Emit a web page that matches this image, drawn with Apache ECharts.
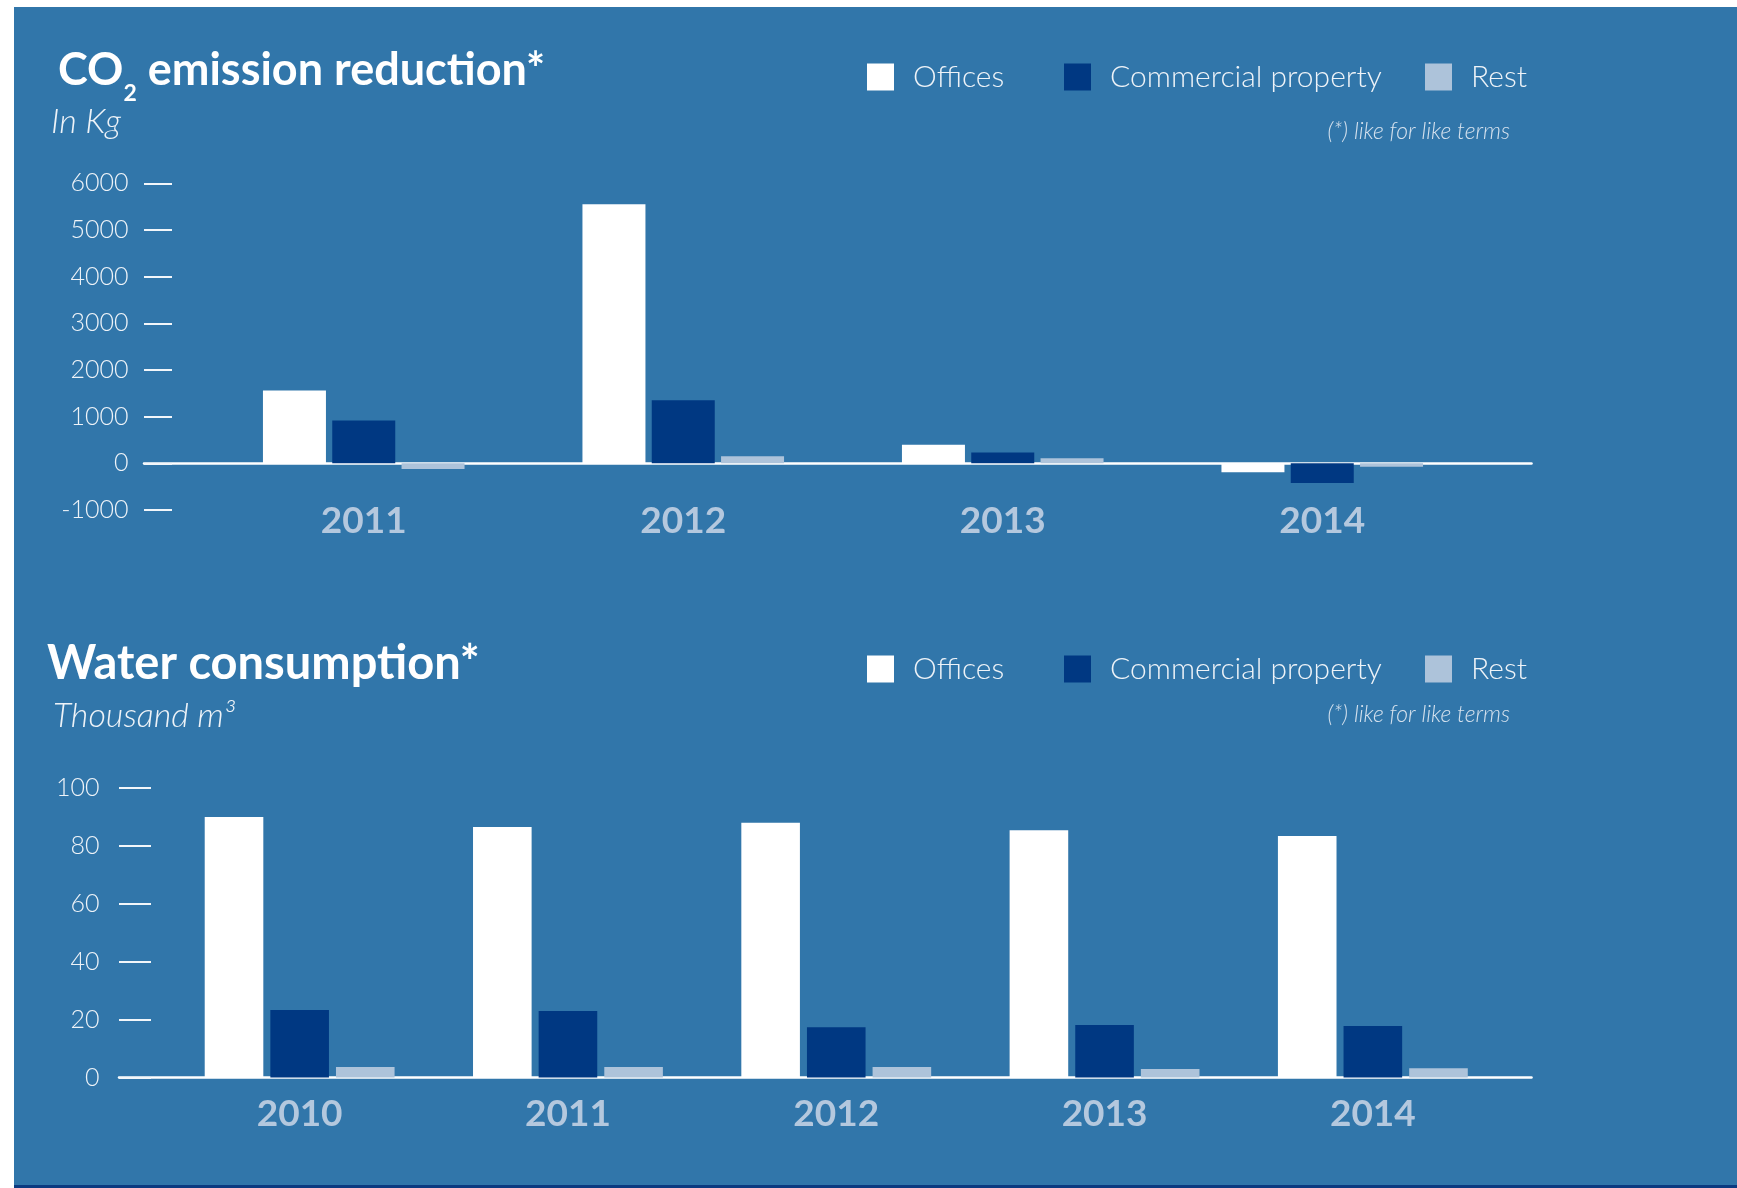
<!DOCTYPE html>
<html>
<head>
<meta charset="utf-8">
<script src="https://cdn.jsdelivr.net/npm/echarts@6/dist/echarts.min.js"></script>
<style>
  html, body { margin: 0; padding: 0; background: #ffffff; width: 1737px; height: 1188px; overflow: hidden; }
  #panel { position: absolute; left: 14px; top: 7px; width: 1723px; height: 1178px; background: #3176aa; border-bottom: 3px solid #0b3a80; }
  #chart { position: absolute; left: 0; top: 0; width: 1737px; height: 1188px; }
</style>
</head>
<body>
<div id="panel"></div>
<div id="chart"></div>
<script>
// ---- Data ----
const co2Years = ['2011', '2012', '2013', '2014'];
const co2Offices = [1560, 5550, 400, -190];
const co2Commercial = [920, 1350, 230, -420];
const co2Rest = [-120, 150, 110, -75];
const co2AxisMin = -1000, co2AxisMax = 6000, co2AxisStep = 1000;

const waterYears = ['2010', '2011', '2012', '2013', '2014'];
const waterOffices = [90, 86.5, 88, 85.4, 83.4];
const waterCommercial = [23.3, 23, 17.4, 18.1, 17.8];
const waterRest = [3.6, 3.6, 3.6, 2.9, 3.2];
const waterAxisMin = 0, waterAxisMax = 100, waterAxisStep = 20;

const seriesNames = ['Offices', 'Commercial property', 'Rest'];
const seriesColors = ['#ffffff', '#003882', '#adc3da'];

// ---- Styles ----
const FONT = 'Lato';
const yearColor = '#b4c8de';
const textLight = '#eef3f8';

const chart = echarts.init(document.getElementById('chart'), null, { renderer: 'canvas' });

function titleRich(text, left, top) {
  return {
    text: text, left: left, top: top, padding: 0,
    textStyle: {
      rich: {
        a: { fontSize: 45, fontWeight: 'bold', color: '#ffffff', fontFamily: FONT, lineHeight: 45 },
        s: { fontSize: 23, fontWeight: 'bold', color: '#ffffff', fontFamily: FONT, lineHeight: 23, padding: [47, 0, 0, 0] }
      }
    }
  };
}
function plainTitle(text, opts, style) {
  return Object.assign({ text: text, padding: 0, textStyle: Object.assign({ fontFamily: FONT, color: textLight }, style) }, opts);
}
function legendItem(name, left, top) {
  return {
    data: [name], left: left, top: top, padding: 0, icon: 'rect',
    itemWidth: 27, itemHeight: 27, selectedMode: false,
    textStyle: { fontSize: 30, fontWeight: 300, color: textLight, fontFamily: FONT, padding: [0, 0, 0, 14] }
  };
}
function barSeries(name, data, color, gridIdx, barWidth, barGap) {
  return {
    name: name, type: 'bar', data: data,
    xAxisIndex: gridIdx, yAxisIndex: gridIdx,
    barWidth: barWidth, barGap: barGap,
    itemStyle: { color: color },
    emphasis: { disabled: true },
    z: 2
  };
}
const plainNumber = function (v) { return String(v); };

const legendX = [867, 1064, 1425];

const option = {
  backgroundColor: 'transparent',
  animation: false,
  title: [
    titleRich('{a|CO}{s|2}{a| emission reduction*}', 58, 48),
    plainTitle('In Kg', { left: 51, top: 105 }, { fontSize: 34, fontWeight: 300, fontStyle: 'italic', lineHeight: 34 }),
    plainTitle('(*) like for like terms', { right: 227, top: 120 }, { fontSize: 23, fontWeight: 300, fontStyle: 'italic', lineHeight: 23, color: '#d6e2ee' }),
    plainTitle('Water consumption*', { left: 47, top: 640 }, { fontSize: 47, fontWeight: 'bold', color: '#ffffff', lineHeight: 47 }),
    plainTitle('Thousand m\u00B3', { left: 53, top: 699 }, { fontSize: 34, fontWeight: 300, fontStyle: 'italic', lineHeight: 34 }),
    plainTitle('(*) like for like terms', { right: 227, top: 703 }, { fontSize: 23, fontWeight: 300, fontStyle: 'italic', lineHeight: 23, color: '#d6e2ee' })
  ],
  legend: [
    legendItem(seriesNames[0], legendX[0], 62),
    legendItem(seriesNames[1], legendX[1], 62),
    legendItem(seriesNames[2], legendX[2], 62),
    legendItem(seriesNames[0], legendX[0], 654),
    legendItem(seriesNames[1], legendX[1], 654),
    legendItem(seriesNames[2], legendX[2], 654)
  ],
  grid: [
    { left: 204, right: 255, top: 183.3, bottom: 678 },
    { left: 144, right: 205.5, top: 183.3, bottom: 678 },
    { left: 165.5, right: 230, top: 788, bottom: 110.5 },
    { left: 119, right: 205.5, top: 788, bottom: 110.5 }
  ],
  xAxis: [
    {
      gridIndex: 0, type: 'category', data: co2Years,
      axisLine: { show: false, onZero: false }, axisTick: { show: false },
      axisLabel: { margin: -7, fontSize: 37, fontWeight: 'bold', color: yearColor, fontFamily: FONT }
    },
    {
      gridIndex: 1, type: 'value', min: 0, max: 1,
      axisLine: { show: true, onZero: true, lineStyle: { color: '#ffffff', width: 2.5 } },
      axisTick: { show: false }, axisLabel: { show: false }, splitLine: { show: false }
    },
    {
      gridIndex: 2, type: 'category', data: waterYears,
      axisLine: { show: false }, axisTick: { show: false },
      axisLabel: { margin: 18.5, fontSize: 37, fontWeight: 'bold', color: yearColor, fontFamily: FONT }
    },
    {
      gridIndex: 3, type: 'value', min: 0, max: 1,
      axisLine: { show: true, onZero: true, lineStyle: { color: '#ffffff', width: 2.5 } },
      axisTick: { show: false }, axisLabel: { show: false }, splitLine: { show: false }
    }
  ],
  yAxis: [
    {
      gridIndex: 0, type: 'value', min: co2AxisMin, max: co2AxisMax, interval: co2AxisStep,
      offset: 32,
      axisLine: { show: false },
      axisTick: { show: true, length: 28, lineStyle: { color: '#f2f6fa', width: 2 } },
      axisLabel: { margin: 43.5, fontSize: 25, fontWeight: 300, color: textLight, fontFamily: FONT, formatter: plainNumber },
      splitLine: { show: false }
    },
    { gridIndex: 1, type: 'value', min: co2AxisMin, max: co2AxisMax, show: false, splitLine: { show: false } },
    {
      gridIndex: 2, type: 'value', min: waterAxisMin, max: waterAxisMax, interval: waterAxisStep,
      offset: 14.5,
      axisLine: { show: false },
      axisTick: { show: true, length: 32, lineStyle: { color: '#f2f6fa', width: 2 } },
      axisLabel: { margin: 51.5, fontSize: 25, fontWeight: 300, color: textLight, fontFamily: FONT, formatter: plainNumber },
      splitLine: { show: false }
    },
    { gridIndex: 3, type: 'value', min: waterAxisMin, max: waterAxisMax, show: false, splitLine: { show: false } }
  ],
  series: [
    barSeries(seriesNames[0], co2Offices, seriesColors[0], 0, 63, '10%'),
    barSeries(seriesNames[1], co2Commercial, seriesColors[1], 0, 63, '10%'),
    barSeries(seriesNames[2], co2Rest, seriesColors[2], 0, 63, '10%'),
    barSeries(seriesNames[0], waterOffices, seriesColors[0], 2, 58.6, '12%'),
    barSeries(seriesNames[1], waterCommercial, seriesColors[1], 2, 58.6, '12%'),
    barSeries(seriesNames[2], waterRest, seriesColors[2], 2, 58.6, '12%')
  ]
};
chart.setOption(option);
</script>
</body>
</html>
